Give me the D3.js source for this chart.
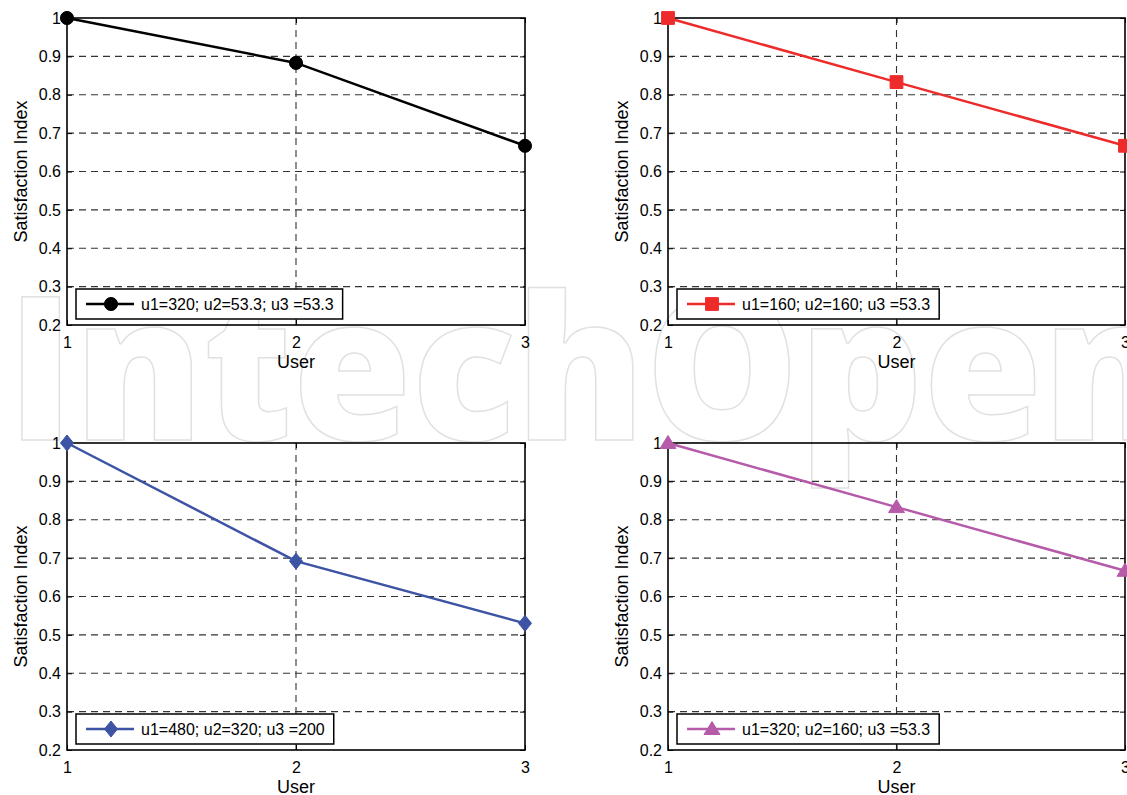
<!DOCTYPE html>
<html>
<head>
<meta charset="utf-8">
<script src="https://cdn.jsdelivr.net/npm/d3@7"></script>
<style>
  html, body { margin: 0; padding: 0; background: #fff; }
  svg { display: block; }
  text { font-family: "Liberation Sans", Arial, sans-serif; }
</style>
</head>
<body>
<svg id="chart" width="1127" height="795"></svg>
<script>
// ---- data ----
const users = [1, 2, 3];
const xTicks = [1, 2, 3];
const yTicks = [0.2, 0.3, 0.4, 0.5, 0.6, 0.7, 0.8, 0.9, 1];
const seriesA = [1.0, 0.883, 0.667];   // black circles
const seriesB = [1.0, 0.833, 0.667];   // red squares
const seriesC = [1.0, 0.692, 0.530];   // blue diamonds
const seriesD = [1.0, 0.833, 0.667];   // magenta triangles
const legendLabels = [
  "u1=320; u2=53.3; u3 =53.3",
  "u1=160; u2=160; u3 =53.3",
  "u1=480; u2=320; u3 =200",
  "u1=320; u2=160; u3 =53.3"
];
const xTitle = "User";
const yTitle = "Satisfaction Index";
const watermark = "IntechOpen";

// ---- layout / style ----
const colors = ["#000000", "#ee2b2b", "#3d53a4", "#b65aaa"];
const markerKinds = ["circle", "square", "diamond", "triangle"];
const panels = [
  { x0: 67,  x1: 525,  yTop: 18,  yBot: 325 },
  { x0: 668, x1: 1125, yTop: 18,  yBot: 325 },
  { x0: 67,  x1: 525,  yTop: 443, yBot: 750 },
  { x0: 668, x1: 1125, yTop: 443, yBot: 750 }
];
const allSeries = [seriesA, seriesB, seriesC, seriesD];

const svg = d3.select("#chart");

// watermark (behind everything)
svg.append("text")
  .attr("x", 7).attr("y", 440)
  .attr("textLength", 1165)
  .attr("lengthAdjust", "spacingAndGlyphs")
  .style("font-family", "'Open Sans', sans-serif")
  .style("font-weight", 800)
  .style("font-size", "200px")
  .attr("fill", "none")
  .attr("stroke", "#e1e1e1")
  .attr("stroke-width", 1.5)
  .text(watermark);

function markerPath(kind) {
  if (kind === "circle") return d3.symbol(d3.symbolCircle, 135)();
  if (kind === "square") return "M-6.4,-6.4H6.4V6.4H-6.4Z";
  if (kind === "diamond") return "M0,-8L6.5,0L0,8L-6.5,0Z";
  return "M0,-7.5L8,5.5L-8,5.5Z";
}

panels.forEach((p, i) => {
  const vals = allSeries[i];
  const x = d3.scaleLinear().domain([1, 3]).range([p.x0, p.x1]);
  const y = d3.scaleLinear().domain([0.2, 1]).range([p.yBot, p.yTop]);
  const g = svg.append("g");

  // grid
  g.append("g").selectAll("line")
    .data(yTicks.filter(t => t > 0.2 && t < 1))
    .join("line")
    .attr("x1", p.x0).attr("x2", p.x1)
    .attr("y1", d => y(d)).attr("y2", d => y(d))
    .attr("stroke", "#333").attr("stroke-width", 1.1)
    .attr("stroke-dasharray", "7,5");
  g.append("g").selectAll("line")
    .data(xTicks.filter(t => t > 1 && t < 3))
    .join("line")
    .attr("x1", d => x(d)).attr("x2", d => x(d))
    .attr("y1", p.yBot).attr("y2", p.yTop)
    .attr("stroke", "#333").attr("stroke-width", 1.1)
    .attr("stroke-dasharray", "7,5");

  // axes
  const ax = g.append("g")
    .attr("transform", `translate(0,${p.yBot})`)
    .call(d3.axisBottom(x).tickValues(xTicks).tickFormat(d3.format("d")).tickSizeInner(-5).tickSizeOuter(0).tickPadding(12));
  const ay = g.append("g")
    .attr("transform", `translate(${p.x0},0)`)
    .call(d3.axisLeft(y).tickValues(yTicks).tickFormat(d => d3.format(".1f")(d).replace(/^1\.0$/, "1")).tickSizeInner(-5).tickSizeOuter(0).tickPadding(6));
  g.append("g").attr("transform", `translate(0,${p.yTop})`)
    .call(d3.axisTop(x).tickValues(xTicks).tickFormat("").tickSizeInner(-5).tickSizeOuter(0));
  g.append("g").attr("transform", `translate(${p.x1},0)`)
    .call(d3.axisRight(y).tickValues(yTicks).tickFormat("").tickSizeInner(-5).tickSizeOuter(0));
  g.selectAll(".domain").remove();
  g.selectAll(".tick line").attr("stroke", "#000").attr("stroke-width", 1);
  [ax, ay].forEach(a => {
    a.attr("font-size", 16).attr("font-family", "'Liberation Sans', Arial, sans-serif");
    a.selectAll(".tick text").attr("fill", "#000");
  });

  // frame
  g.append("rect")
    .attr("x", p.x0).attr("y", p.yTop)
    .attr("width", p.x1 - p.x0).attr("height", p.yBot - p.yTop)
    .attr("fill", "none").attr("stroke", "#000").attr("stroke-width", 1.6);

  // axis titles
  g.append("text")
    .attr("x", (p.x0 + p.x1) / 2).attr("y", p.yBot + 43)
    .attr("text-anchor", "middle")
    .style("font-size", "18px").text(xTitle);
  g.append("text")
    .attr("transform", `translate(${p.x0 - 40},${(p.yTop + p.yBot) / 2}) rotate(-90)`)
    .attr("text-anchor", "middle")
    .style("font-size", "18px").text(yTitle);

  // data line
  const pts = users.map((u, k) => [u, vals[k]]);
  g.append("path")
    .datum(pts)
    .attr("d", d3.line().x(d => x(d[0])).y(d => y(d[1])))
    .attr("fill", "none").attr("stroke", colors[i]).attr("stroke-width", 2.5);
  g.append("g").selectAll("path")
    .data(pts).join("path")
    .attr("transform", d => `translate(${x(d[0])},${y(d[1])})`)
    .attr("d", markerPath(markerKinds[i]))
    .attr("fill", colors[i]).attr("stroke", colors[i]).attr("stroke-width", 1);

  // legend
  const lg = g.append("g");
  const box = lg.append("rect")
    .attr("x", p.x0 + 9).attr("y", p.yBot - 36)
    .attr("height", 30)
    .attr("fill", "#fff").attr("stroke", "#000").attr("stroke-width", 1.5);
  lg.append("line")
    .attr("x1", p.x0 + 19).attr("x2", p.x0 + 67)
    .attr("y1", p.yBot - 21).attr("y2", p.yBot - 21)
    .attr("stroke", colors[i]).attr("stroke-width", 2.5);
  lg.append("path")
    .attr("transform", `translate(${p.x0 + 44},${p.yBot - 21})`)
    .attr("d", markerPath(markerKinds[i]))
    .attr("fill", colors[i]).attr("stroke", colors[i]).attr("stroke-width", 1);
  const lt = lg.append("text")
    .attr("x", p.x0 + 74).attr("y", p.yBot - 15.5)
    .style("font-size", "16px").text(legendLabels[i]);
  const tw = lt.node().getComputedTextLength();
  box.attr("width", (p.x0 + 74 + tw + 9) - (p.x0 + 9));
});
</script>
</body>
</html>
